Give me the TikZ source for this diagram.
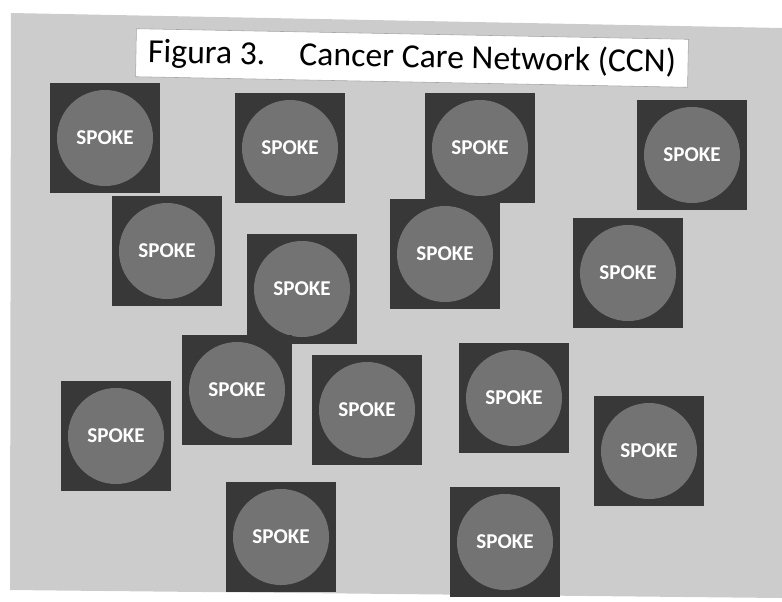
\documentclass[tikz,border=0pt]{standalone}
\usepackage{fontspec}
\usepackage{xcolor}
\usepackage{tikz}
\usetikzlibrary{positioning}

\newfontfamily\calib{Carlito}
\newcommand{\spokefont}{\calib\bfseries\fontsize{15}{18}\selectfont}
\newcommand{\titlefont}{\calib\fontsize{24}{28}\selectfont}

\begin{document}
\begin{tikzpicture}[
    x=0.025cm, y=-0.025cm,
    spoke/.style={fill=black!78, minimum size=2.725cm, inner sep=0pt, text=white, font=\spokefont,
        path picture={\fill[black!55] (path picture bounding box.center) circle (1.2cm);}},
    titlebox/.style={fill=white, draw=black!35, thin, minimum width=13.8cm, minimum height=1.2cm, inner sep=0pt, font=\titlefont}
]
    \useasboundingbox (0,0) rectangle (782,601);
    % scanned background
    \fill[black!20] (11,13) -- (782,28) -- (782,598) -- (10,590) -- cycle;
    \node[titlebox, rotate=-1.1] (title) at (412,58) {Figura 3.\hspace{0.85cm}Cancer Care Network (CCN)};
    \foreach \x/\y [count=\n] in {105/138, 290/148, 480/148, 692/155, 167/251, 445/254, 628/273, 302/289,
        237/390, 367/410, 514/398, 116/436, 649/451, 281/537, 505/542} {
        \node[spoke] (spoke\n) at (\x,\y) {SPOKE};
    }
\end{tikzpicture}
\end{document}
